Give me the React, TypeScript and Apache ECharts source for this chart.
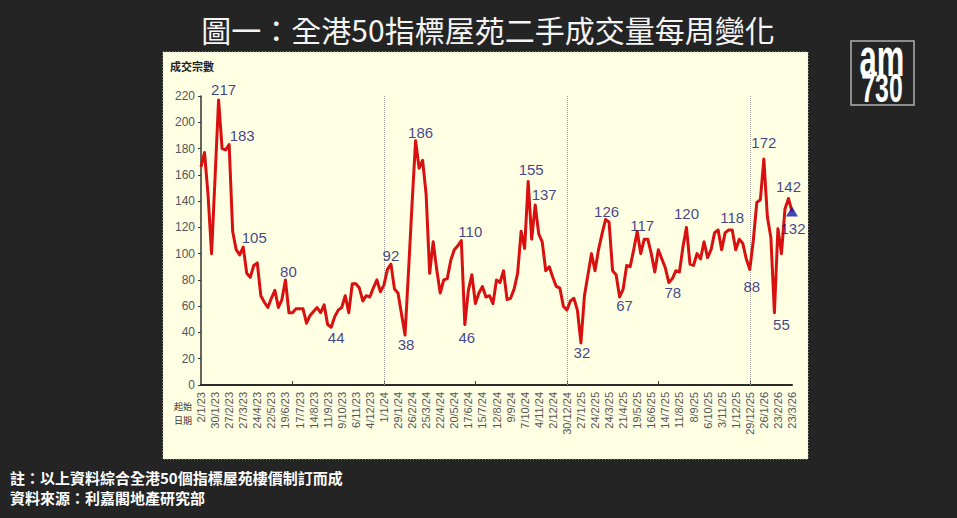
import React, { useEffect, useRef } from 'react';
import * as echarts from 'echarts';

// Weekly transactions (50 blue-chip estates), week starting 2/1/23 .. 23/3/26
const values = [
  166, 177, 145, 100, 158, 217, 180, 179, 183, 117,
  103, 99, 105, 85, 82, 91, 93, 68, 63, 59,
  66, 72, 59, 65, 80, 55, 55, 58, 58, 58,
  47, 53, 56, 59, 55, 61, 46, 44, 52, 57,
  59, 68, 55, 77, 77, 74, 64, 68, 67, 74,
  80, 71, 76, 88, 92, 73, 70, 54, 38, 87,
  138, 186, 165, 171, 145, 85, 109, 88, 70, 80,
  81, 95, 103, 106, 110, 46, 72, 84, 62, 70,
  75, 67, 68, 62, 80, 78, 87, 65, 66, 73,
  85, 117, 104, 155, 111, 137, 115, 109, 87, 90,
  82, 75, 74, 60, 57, 64, 66, 57, 32, 68,
  84, 100, 87, 103, 115, 126, 124, 87, 84, 67,
  73, 91, 90, 103, 117, 100, 111, 111, 100, 86,
  103, 96, 89, 78, 81, 87, 86, 105, 120, 92,
  91, 100, 96, 109, 97, 103, 116, 118, 103, 116,
  118, 118, 103, 111, 108, 96, 88, 110, 139, 141,
  172, 128, 112, 55, 119, 100, 134, 142, 132,
];

const START_UTC = Date.UTC(2023, 0, 2);
const categories = values.map((_, i) => {
  const d = new Date(START_UTC + i * 7 * 86400000);
  return `${d.getUTCDate()}/${d.getUTCMonth() + 1}/${String(d.getUTCFullYear()).slice(2)}`;
});

const yearStartWeeks = [52, 104, 156];
const yTicks = { min: 0, max: 220, interval: 20 };

// index of labelled point, label side, offset x, offset y
const labelledPoints: [number, string, number, number][] = [
  [5, 'top', 5, 3], [8, 'top', 13, 4], [12, 'top', 11, 4], [24, 'top', 3, 5],
  [37, 'bottom', 5, -3], [54, 'top', 0, 5], [58, 'bottom', 1, -4], [61, 'top', 5, 5],
  [74, 'top', 9, 4], [75, 'bottom', 2, -1], [93, 'top', 3, 2], [95, 'top', 9, 3],
  [108, 'bottom', 1, -4], [115, 'top', 1, 6], [119, 'bottom', 5, -5], [124, 'top', 5, 8],
  [133, 'bottom', 4, -4], [138, 'top', 0, 0], [151, 'top', 0, 1], [156, 'bottom', 2, 4],
  [160, 'top', 0, -3], [163, 'bottom', 7, -2], [167, 'top', 0, 2],
];
const latestIndex = values.length - 1;

const titleText = '圖一：全港50指標屋苑二手成交量每周變化';
const noteLines = ['註：以上資料綜合全港50個指標屋苑樓價制訂而成', '資料來源：利嘉閣地產研究部'];
const yAxisName = '成交宗數';
const xAxisNameLines = ['起始', '日期'];

const CJK = '"Noto Sans CJK TC", "Noto Sans CJK SC", sans-serif';
const LAT = '"Liberation Sans", Arial, sans-serif';
const labelColor = '#101070';

export default function App() {
  const ref = useRef<HTMLDivElement>(null);
  useEffect(() => {
    const chart = echarts.init(ref.current!, null, { renderer: 'svg' });
    const option: any = {
      animation: false,
      backgroundColor: '#242424',
      grid: { left: 201, top: 96, width: 591, height: 289, containLabel: false },
      xAxis: {
        type: 'category',
        data: categories,
        boundaryGap: false,
        axisLine: { lineStyle: { color: '#2a2a2a', width: 2 } },
        axisTick: {
          show: true,
          inside: true,
          length: 4,
          interval: (idx: number) => idx > 0 && idx % 26 === 0,
          lineStyle: { color: '#444' },
        },
        axisLabel: {
          interval: 3,
          rotate: 90,
          fontSize: 11,
          color: '#555',
          fontFamily: LAT,
          margin: 7,
        },
        splitLine: { show: false },
      },
      yAxis: {
        type: 'value',
        min: yTicks.min,
        max: yTicks.max,
        interval: yTicks.interval,
        axisLine: { show: true, lineStyle: { color: '#333', width: 1.5 } },
        axisTick: { show: true, length: 3, lineStyle: { color: '#333' } },
        axisLabel: { fontSize: 12, color: '#555', fontFamily: LAT, margin: 6 },
        splitLine: { show: false },
      },
      series: [
        {
          type: 'line',
          data: values,
          showSymbol: false,
          symbol: 'none',
          lineStyle: { color: '#d91010', width: 3, join: 'round' },
          z: 3,
          markLine: {
            silent: true,
            symbol: ['none', 'none'],
            label: { show: false },
            lineStyle: { type: 'dotted', color: '#9a9a9a', width: 1 },
            data: yearStartWeeks.map((w) => ({ xAxis: categories[w] })),
            z: 1,
          },
        },
        {
          type: 'scatter',
          symbol: 'circle',
          symbolSize: 2,
          itemStyle: { color: 'transparent' },
          z: 5,
          data: labelledPoints.map(([i, pos, dx, dy]) => ({
            value: [i, values[i]],
            label: {
              show: true,
              position: pos,
              offset: [dx, dy],
              formatter: () => String(values[i]),
              color: labelColor,
              fontSize: 15,
              fontFamily: LAT,
            },
          })),
        },
        {
          type: 'scatter',
          symbol: 'triangle',
          symbolSize: [12, 10],
          itemStyle: { color: '#1818a8' },
          z: 6,
          data: [
            {
              value: [latestIndex, values[latestIndex]],
              label: {
                show: true,
                position: 'bottom',
                offset: [1, -1],
                formatter: () => String(values[latestIndex]),
                color: labelColor,
                fontSize: 15,
                fontFamily: LAT,
              },
            },
          ],
        },
      ],
      graphic: [
        {
          type: 'rect',
          z: -10,
          shape: { x: 163, y: 52, width: 645, height: 407 },
          style: { fill: '#ffffe4', stroke: '#d8d8c8', lineWidth: 1, lineDash: [1, 2] },
        },
        {
          type: 'text',
          x: 488,
          y: 29,
          style: {
            text: titleText,
            fill: '#f4f4f4',
            fontSize: 30,
            fontFamily: CJK,
            align: 'center',
            verticalAlign: 'middle',
            textAlign: 'center',
            textVerticalAlign: 'middle',
          },
        },
        {
          type: 'text',
          x: 170,
          y: 66,
          style: {
            text: yAxisName,
            fill: '#222',
            fontSize: 11,
            fontWeight: 'bold',
            fontFamily: CJK,
            align: 'left',
            verticalAlign: 'middle',
            textAlign: 'left',
            textVerticalAlign: 'middle',
          },
        },
        ...xAxisNameLines.map((t, k) => ({
          type: 'text',
          x: 183,
          y: 406 + k * 14,
          style: {
            text: t,
            fill: '#333',
            fontSize: 9,
            fontFamily: CJK,
            align: 'center',
            verticalAlign: 'middle',
            textAlign: 'center',
            textVerticalAlign: 'middle',
          },
        })),
        ...noteLines.map((t, k) => ({
          type: 'text',
          x: 10,
          y: 477 + k * 20,
          style: {
            text: t,
            fill: '#ffffff',
            fontSize: 15,
            fontWeight: 'bold',
            fontFamily: CJK,
            align: 'left',
            verticalAlign: 'middle',
            textAlign: 'left',
            textVerticalAlign: 'middle',
          },
        })),
        {
          type: 'rect',
          shape: { x: 851, y: 41, width: 63, height: 64 },
          style: { fill: 'none', stroke: '#b0b0b0', lineWidth: 1.5 },
        },
        {
          type: 'text',
          x: 882,
          y: 58,
          scaleX: 0.62,
          scaleY: 1.05,
          style: {
            text: 'am',
            fill: '#ffffff',
            fontSize: 50,
            fontWeight: 'bold',
            fontFamily: LAT,
            align: 'center',
            verticalAlign: 'middle',
            textAlign: 'center',
            textVerticalAlign: 'middle',
          },
        },
        {
          type: 'text',
          x: 882,
          y: 88,
          scaleX: 0.62,
          scaleY: 1.0,
          style: {
            text: '730',
            fill: '#ffffff',
            fontSize: 40,
            fontWeight: 'bold',
            fontFamily: LAT,
            align: 'center',
            verticalAlign: 'middle',
            textAlign: 'center',
            textVerticalAlign: 'middle',
          },
        },
      ],
    };
    chart.setOption(option);
    return () => chart.dispose();
  }, []);
  return (
    <div
      ref={ref}
      style={{ position: 'absolute', left: 0, top: 0, width: 957, height: 518 }}
    />
  );
}
